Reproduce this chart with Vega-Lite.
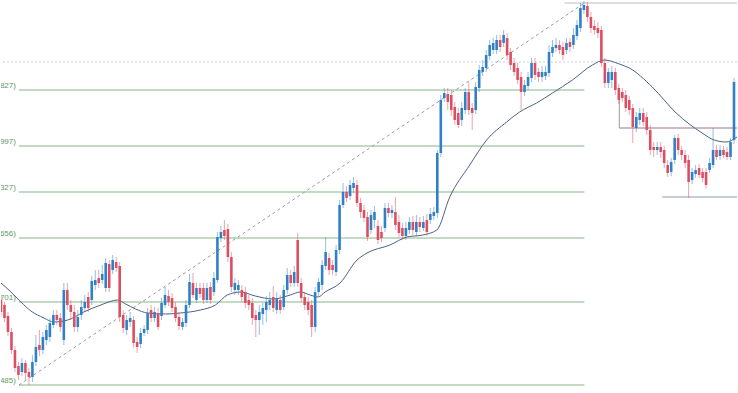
{
  "$schema": "https://vega.github.io/schema/vega-lite/v6.json",
  "width": 738,
  "height": 393,
  "autosize": {"type": "fit", "contains": "padding"},
  "padding": 0,
  "background": "#ffffff",
  "config": {"view": {"stroke": null}, "axis": {"disable": true}, "scale": {"continuousPadding": 0}},
  "datasets": {
    "candles": [
      {"t":0,"o":300,"c":312,"h":296,"l":316},{"t":1,"o":305,"c":318,"h":302,"l":322},{"t":2,"o":316,"c":332,"h":312,"l":336},{"t":3,"o":332,"c":350,"h":328,"l":354},{"t":4,"o":350,"c":368,"h":346,"l":372},{"t":5,"o":366,"c":375,"h":362,"l":380},{"t":6,"o":372,"c":363,"h":358,"l":376},{"t":7,"o":363,"c":373,"h":360,"l":380},{"t":8,"o":372,"c":377,"h":368,"l":385},{"t":9,"o":377,"c":362,"h":355,"l":382},
      {"t":10,"o":362,"c":347,"h":335,"l":366},{"t":11,"o":345,"c":350,"h":330,"l":356},{"t":12,"o":350,"c":337,"h":332,"l":354},{"t":13,"o":340,"c":330,"h":325,"l":345},{"t":14,"o":337,"c":323,"h":318,"l":342},{"t":15,"o":325,"c":315,"h":310,"l":328},{"t":16,"o":315,"c":320,"h":310,"l":325},{"t":17,"o":318,"c":327,"h":313,"l":332},{"t":18,"o":340,"c":290,"h":283,"l":345},{"t":19,"o":290,"c":305,"h":283,"l":310},
      {"t":20,"o":305,"c":312,"h":300,"l":320},{"t":21,"o":312,"c":327,"h":305,"l":332},{"t":22,"o":327,"c":317,"h":310,"l":332},{"t":23,"o":315,"c":307,"h":300,"l":320},{"t":24,"o":308,"c":302,"h":295,"l":312},{"t":25,"o":297,"c":308,"h":292,"l":312},{"t":26,"o":300,"c":281,"h":276,"l":305},{"t":27,"o":285,"c":280,"h":270,"l":290},{"t":28,"o":278,"c":283,"h":270,"l":288},{"t":29,"o":280,"c":274,"h":265,"l":284},
      {"t":30,"o":288,"c":263,"h":258,"l":292},{"t":31,"o":264,"c":288,"h":260,"l":292},{"t":32,"o":270,"c":260,"h":255,"l":274},{"t":33,"o":262,"c":268,"h":257,"l":272},{"t":34,"o":266,"c":317,"h":262,"l":322},{"t":35,"o":315,"c":328,"h":310,"l":333},{"t":36,"o":330,"c":320,"h":315,"l":335},{"t":37,"o":322,"c":318,"h":312,"l":327},{"t":38,"o":320,"c":343,"h":316,"l":348},{"t":39,"o":342,"c":347,"h":337,"l":353},
      {"t":40,"o":344,"c":333,"h":328,"l":348},{"t":41,"o":333,"c":329,"h":325,"l":336},{"t":42,"o":330,"c":313,"h":308,"l":334},{"t":43,"o":310,"c":318,"h":305,"l":322},{"t":44,"o":318,"c":312,"h":307,"l":322},{"t":45,"o":313,"c":327,"h":308,"l":330},{"t":46,"o":316,"c":303,"h":298,"l":320},{"t":47,"o":305,"c":295,"h":287,"l":308},{"t":48,"o":296,"c":302,"h":290,"l":306},{"t":49,"o":298,"c":308,"h":293,"l":312},
      {"t":50,"o":307,"c":318,"h":302,"l":322},{"t":51,"o":317,"c":326,"h":312,"l":330},{"t":52,"o":327,"c":322,"h":318,"l":330},{"t":53,"o":323,"c":305,"h":300,"l":327},{"t":54,"o":305,"c":282,"h":274,"l":308},{"t":55,"o":283,"c":295,"h":273,"l":298},{"t":56,"o":300,"c":288,"h":283,"l":303},{"t":57,"o":288,"c":294,"h":283,"l":298},{"t":58,"o":288,"c":300,"h":283,"l":304},{"t":59,"o":300,"c":288,"h":283,"l":303},
      {"t":60,"o":287,"c":300,"h":282,"l":304},{"t":61,"o":292,"c":278,"h":272,"l":296},{"t":62,"o":280,"c":237,"h":232,"l":283},{"t":63,"o":238,"c":232,"h":226,"l":242},{"t":64,"o":230,"c":236,"h":220,"l":240},{"t":65,"o":229,"c":257,"h":224,"l":262},{"t":66,"o":257,"c":287,"h":252,"l":292},{"t":67,"o":290,"c":283,"h":278,"l":295},{"t":68,"o":290,"c":285,"h":280,"l":295},{"t":69,"o":290,"c":297,"h":285,"l":302},
      {"t":70,"o":292,"c":303,"h":287,"l":308},{"t":71,"o":300,"c":305,"h":295,"l":310},{"t":72,"o":303,"c":318,"h":298,"l":325},{"t":73,"o":315,"c":320,"h":310,"l":337},{"t":74,"o":320,"c":312,"h":305,"l":335},{"t":75,"o":314,"c":308,"h":303,"l":325},{"t":76,"o":310,"c":302,"h":296,"l":322},{"t":77,"o":305,"c":300,"h":292,"l":310},{"t":78,"o":297,"c":308,"h":286,"l":312},{"t":79,"o":310,"c":298,"h":292,"l":314},
      {"t":80,"o":300,"c":310,"h":295,"l":314},{"t":81,"o":307,"c":290,"h":285,"l":310},{"t":82,"o":290,"c":275,"h":268,"l":294},{"t":83,"o":275,"c":283,"h":270,"l":287},{"t":84,"o":283,"c":272,"h":266,"l":287},{"t":85,"o":240,"c":283,"h":233,"l":287},{"t":86,"o":283,"c":298,"h":278,"l":302},{"t":87,"o":297,"c":305,"h":292,"l":310},{"t":88,"o":302,"c":310,"h":297,"l":315},{"t":89,"o":305,"c":327,"h":300,"l":337},
      {"t":90,"o":327,"c":292,"h":287,"l":332},{"t":91,"o":292,"c":282,"h":278,"l":296},{"t":92,"o":285,"c":265,"h":260,"l":290},{"t":93,"o":266,"c":252,"h":237,"l":270},{"t":94,"o":258,"c":270,"h":253,"l":275},{"t":95,"o":265,"c":270,"h":260,"l":275},{"t":96,"o":272,"c":250,"h":245,"l":276},{"t":97,"o":250,"c":205,"h":200,"l":254},{"t":98,"o":205,"c":192,"h":183,"l":208},{"t":99,"o":192,"c":198,"h":186,"l":202},
      {"t":100,"o":196,"c":185,"h":180,"l":200},{"t":101,"o":188,"c":183,"h":177,"l":193},{"t":102,"o":185,"c":203,"h":180,"l":207},{"t":103,"o":203,"c":212,"h":198,"l":218},{"t":104,"o":210,"c":218,"h":205,"l":222},{"t":105,"o":217,"c":237,"h":212,"l":241},{"t":106,"o":230,"c":215,"h":210,"l":234},{"t":107,"o":220,"c":212,"h":206,"l":228},{"t":108,"o":226,"c":240,"h":220,"l":244},{"t":109,"o":232,"c":238,"h":226,"l":242},
      {"t":110,"o":228,"c":208,"h":203,"l":232},{"t":111,"o":208,"c":213,"h":203,"l":217},{"t":112,"o":213,"c":210,"h":205,"l":218},{"t":113,"o":212,"c":225,"h":197,"l":230},{"t":114,"o":222,"c":233,"h":215,"l":237},{"t":115,"o":228,"c":236,"h":223,"l":240},{"t":116,"o":236,"c":228,"h":222,"l":240},{"t":117,"o":230,"c":222,"h":217,"l":234},{"t":118,"o":222,"c":230,"h":216,"l":235},{"t":119,"o":232,"c":222,"h":215,"l":236},
      {"t":120,"o":222,"c":227,"h":217,"l":232},{"t":121,"o":228,"c":222,"h":216,"l":231},{"t":122,"o":220,"c":232,"h":214,"l":236},{"t":123,"o":220,"c":214,"h":208,"l":224},{"t":124,"o":216,"c":212,"h":207,"l":220},{"t":125,"o":213,"c":153,"h":150,"l":218},{"t":126,"o":153,"c":100,"h":95,"l":157},{"t":127,"o":98,"c":93,"h":88,"l":102},{"t":128,"o":94,"c":102,"h":88,"l":110},{"t":129,"o":95,"c":110,"h":90,"l":116},
      {"t":130,"o":107,"c":120,"h":102,"l":125},{"t":131,"o":113,"c":125,"h":108,"l":128},{"t":132,"o":120,"c":108,"h":102,"l":126},{"t":133,"o":110,"c":92,"h":88,"l":114},{"t":134,"o":92,"c":110,"h":82,"l":115},{"t":135,"o":108,"c":113,"h":103,"l":130},{"t":136,"o":110,"c":87,"h":82,"l":114},{"t":137,"o":88,"c":70,"h":65,"l":92},{"t":138,"o":72,"c":67,"h":60,"l":76},{"t":139,"o":68,"c":55,"h":50,"l":72},
      {"t":140,"o":56,"c":45,"h":40,"l":60},{"t":141,"o":50,"c":43,"h":38,"l":54},{"t":142,"o":50,"c":40,"h":35,"l":54},{"t":143,"o":40,"c":47,"h":35,"l":52},{"t":144,"o":43,"c":35,"h":30,"l":47},{"t":145,"o":38,"c":55,"h":33,"l":60},{"t":146,"o":52,"c":65,"h":48,"l":70},{"t":147,"o":63,"c":72,"h":58,"l":76},{"t":148,"o":68,"c":80,"h":63,"l":84},{"t":149,"o":77,"c":92,"h":72,"l":110},
      {"t":150,"o":92,"c":85,"h":80,"l":96},{"t":151,"o":86,"c":77,"h":72,"l":90},{"t":152,"o":78,"c":63,"h":58,"l":82},{"t":153,"o":63,"c":75,"h":58,"l":80},{"t":154,"o":72,"c":77,"h":68,"l":82},{"t":155,"o":77,"c":72,"h":66,"l":82},{"t":156,"o":76,"c":72,"h":66,"l":80},{"t":157,"o":73,"c":52,"h":45,"l":77},{"t":158,"o":53,"c":47,"h":40,"l":57},{"t":159,"o":48,"c":45,"h":38,"l":52},
      {"t":160,"o":45,"c":50,"h":40,"l":54},{"t":161,"o":47,"c":55,"h":42,"l":60},{"t":162,"o":50,"c":43,"h":38,"l":54},{"t":163,"o":42,"c":47,"h":38,"l":52},{"t":164,"o":45,"c":35,"h":28,"l":49},{"t":165,"o":36,"c":25,"h":20,"l":40},{"t":166,"o":28,"c":8,"h":3,"l":32},{"t":167,"o":10,"c":5,"h":1,"l":14},{"t":168,"o":6,"c":17,"h":2,"l":22},{"t":169,"o":17,"c":28,"h":12,"l":33},
      {"t":170,"o":26,"c":30,"h":20,"l":35},{"t":171,"o":28,"c":33,"h":22,"l":38},{"t":172,"o":30,"c":63,"h":26,"l":67},{"t":173,"o":63,"c":83,"h":58,"l":88},{"t":174,"o":83,"c":72,"h":68,"l":88},{"t":175,"o":80,"c":72,"h":66,"l":88},{"t":176,"o":72,"c":90,"h":68,"l":95},{"t":177,"o":88,"c":100,"h":84,"l":104},{"t":178,"o":92,"c":98,"h":88,"l":102},{"t":179,"o":95,"c":108,"h":90,"l":112},
      {"t":180,"o":100,"c":110,"h":96,"l":115},{"t":181,"o":108,"c":127,"h":104,"l":143},{"t":182,"o":128,"c":117,"h":112,"l":132},{"t":183,"o":120,"c":113,"h":108,"l":125},{"t":184,"o":113,"c":122,"h":108,"l":126},{"t":185,"o":117,"c":130,"h":112,"l":135},{"t":186,"o":130,"c":150,"h":125,"l":155},{"t":187,"o":147,"c":150,"h":142,"l":157},{"t":188,"o":150,"c":147,"h":142,"l":155},{"t":189,"o":147,"c":152,"h":142,"l":158},
      {"t":190,"o":150,"c":163,"h":146,"l":168},{"t":191,"o":165,"c":173,"h":160,"l":177},{"t":192,"o":172,"c":162,"h":158,"l":176},{"t":193,"o":160,"c":138,"h":135,"l":164},{"t":194,"o":138,"c":150,"h":134,"l":155},{"t":195,"o":150,"c":155,"h":146,"l":160},{"t":196,"o":155,"c":163,"h":150,"l":168},{"t":197,"o":160,"c":182,"h":155,"l":198},{"t":198,"o":180,"c":172,"h":168,"l":184},{"t":199,"o":174,"c":170,"h":165,"l":178},
      {"t":200,"o":168,"c":175,"h":164,"l":178},{"t":201,"o":172,"c":178,"h":168,"l":182},{"t":202,"o":172,"c":185,"h":168,"l":189},{"t":203,"o":170,"c":163,"h":158,"l":173},{"t":204,"o":165,"c":150,"h":128,"l":168},{"t":205,"o":150,"c":157,"h":145,"l":160},{"t":206,"o":156,"c":150,"h":145,"l":160},{"t":207,"o":150,"c":155,"h":146,"l":158},{"t":208,"o":152,"c":157,"h":147,"l":160},{"t":209,"o":157,"c":142,"h":138,"l":160},
      {"t":210,"o":140,"c":82,"h":78,"l":144}
    ],
    "ma": [
      {"t":0,"v":283},{"t":2.86,"v":292},{"t":5.71,"v":302},{"t":8.57,"v":311},{"t":12.29,"v":318},{"t":15.14,"v":322},{"t":19.14,"v":320},{"t":23.71,"v":312},{"t":28.57,"v":305},{"t":33.43,"v":300},{"t":35.71,"v":304},{"t":38.57,"v":309},{"t":42,"v":313},{"t":47.14,"v":314},{"t":51.43,"v":313},{"t":57.14,"v":310},{"t":61.43,"v":305},{"t":64.86,"v":295},{"t":68.57,"v":292},{"t":72.86,"v":296},{"t":78,"v":299},{"t":82.86,"v":295},{"t":85.71,"v":292},{"t":88.57,"v":295},{"t":90.86,"v":297},{"t":92.86,"v":292},{"t":97.14,"v":283},{"t":102,"v":260},{"t":104.86,"v":253},{"t":111.43,"v":245},{"t":116.29,"v":237},{"t":120.86,"v":235},{"t":124.86,"v":230},{"t":128.57,"v":197},{"t":134.29,"v":165},{"t":139.14,"v":140},{"t":144.86,"v":122},{"t":148.57,"v":112},{"t":153.43,"v":103},{"t":158,"v":93},{"t":163.71,"v":80},{"t":169.43,"v":65},{"t":172.86,"v":60},{"t":177.14,"v":64},{"t":180,"v":68},{"t":186.57,"v":87},{"t":193.43,"v":113},{"t":200.86,"v":133},{"t":204.29,"v":140},{"t":207.71,"v":142},{"t":210.86,"v":137}
    ],
    "fib": [
      {"t1":5.14,"t2":167.14,"y":90,"label":"827)"},
      {"t1":5.14,"t2":167.14,"y":146,"label":"997)"},
      {"t1":5.14,"t2":167.14,"y":192,"label":"327)"},
      {"t1":5.14,"t2":167.14,"y":238,"label":"656)"},
      {"t1":5.14,"t2":167.14,"y":302,"label":"701)"},
      {"t1":5.14,"t2":167.14,"y":385,"label":"485)"}
    ]
  },
  "layer": [
    {
      "data": {"values": [{"y": 62}]},
      "mark": {"type": "rule", "color": "#d0d0d0", "strokeWidth": 1, "strokeDash": [2, 2]},
      "encoding": {"y": {"field": "y", "type": "quantitative", "scale": {"domain": [0, 393], "reverse": true, "nice": false, "zero": false, "padding": 0}}}
    },
    {
      "data": {"values": [{"t1": 161.43, "t2": 210.86, "y": 3}]},
      "mark": {"type": "rule", "color": "#bdbdbd", "strokeWidth": 1},
      "encoding": {
        "x": {"field": "t1", "type": "quantitative", "scale": {"domain": [0, 210.86], "nice": false, "zero": false, "padding": 0}},
        "x2": {"field": "t2"},
        "y": {"field": "y", "type": "quantitative"}
      }
    },
    {
      "data": {"name": "fib"},
      "mark": {"type": "rule", "color": "#86b686", "strokeWidth": 1},
      "encoding": {
        "x": {"field": "t1", "type": "quantitative"},
        "x2": {"field": "t2"},
        "y": {"field": "y", "type": "quantitative"}
      }
    },
    {
      "data": {"name": "fib"},
      "mark": {"type": "text", "align": "right", "baseline": "middle", "dx": -3, "dy": -4, "fontSize": 8, "font": "Liberation Sans", "color": "#5f9a5f", "clip": true},
      "encoding": {
        "x": {"field": "t1", "type": "quantitative"},
        "y": {"field": "y", "type": "quantitative"},
        "text": {"field": "label"}
      }
    },
    {
      "data": {"values": [{"t1": 5.14, "t2": 167.14, "y1": 385, "y2": 3}]},
      "mark": {"type": "rule", "color": "#9a9a9a", "strokeWidth": 1, "strokeDash": [3, 3]},
      "encoding": {
        "x": {"field": "t1", "type": "quantitative"},
        "x2": {"field": "t2"},
        "y": {"field": "y1", "type": "quantitative"},
        "y2": {"field": "y2"}
      }
    },
    {
      "data": {"values": [{"t1": 177.14, "t2": 210.86, "y": 128}]},
      "mark": {"type": "rule", "color": "#a0748f", "strokeWidth": 1.2},
      "encoding": {
        "x": {"field": "t1", "type": "quantitative"},
        "x2": {"field": "t2"},
        "y": {"field": "y", "type": "quantitative"}
      }
    },
    {
      "data": {"values": [{"t": 177.14, "y1": 100, "y2": 128}]},
      "mark": {"type": "rule", "color": "#9a9a9a", "strokeWidth": 1},
      "encoding": {
        "x": {"field": "t", "type": "quantitative"},
        "y": {"field": "y1", "type": "quantitative"},
        "y2": {"field": "y2"}
      }
    },
    {
      "data": {"values": [{"t1": 189.43, "t2": 210.86, "y": 197}]},
      "mark": {"type": "rule", "color": "#8a9bb0", "strokeWidth": 1},
      "encoding": {
        "x": {"field": "t1", "type": "quantitative"},
        "x2": {"field": "t2"},
        "y": {"field": "y", "type": "quantitative"}
      }
    },
    {
      "data": {"name": "ma"},
      "mark": {"type": "line", "color": "#4a6285", "strokeWidth": 1, "interpolate": "monotone", "clip": true},
      "encoding": {
        "x": {"field": "t", "type": "quantitative"},
        "y": {"field": "v", "type": "quantitative"}
      }
    },
    {
      "data": {"name": "candles"},
      "mark": {"type": "rule", "strokeWidth": 1, "opacity": 0.55, "clip": true},
      "encoding": {
        "x": {"field": "t", "type": "quantitative"},
        "y": {"field": "l", "type": "quantitative"},
        "y2": {"field": "h"},
        "color": {"condition": {"test": "datum.c < datum.o", "value": "#3a88c8"}, "value": "#dc5a6c"}
      }
    },
    {
      "data": {"name": "candles"},
      "mark": {"type": "bar", "size": 2.6, "clip": true},
      "encoding": {
        "x": {"field": "t", "type": "quantitative"},
        "y": {"field": "o", "type": "quantitative"},
        "y2": {"field": "c"},
        "color": {"condition": {"test": "datum.c < datum.o", "value": "#2f80c4"}, "value": "#dc4f63"}
      }
    }
  ]
}
